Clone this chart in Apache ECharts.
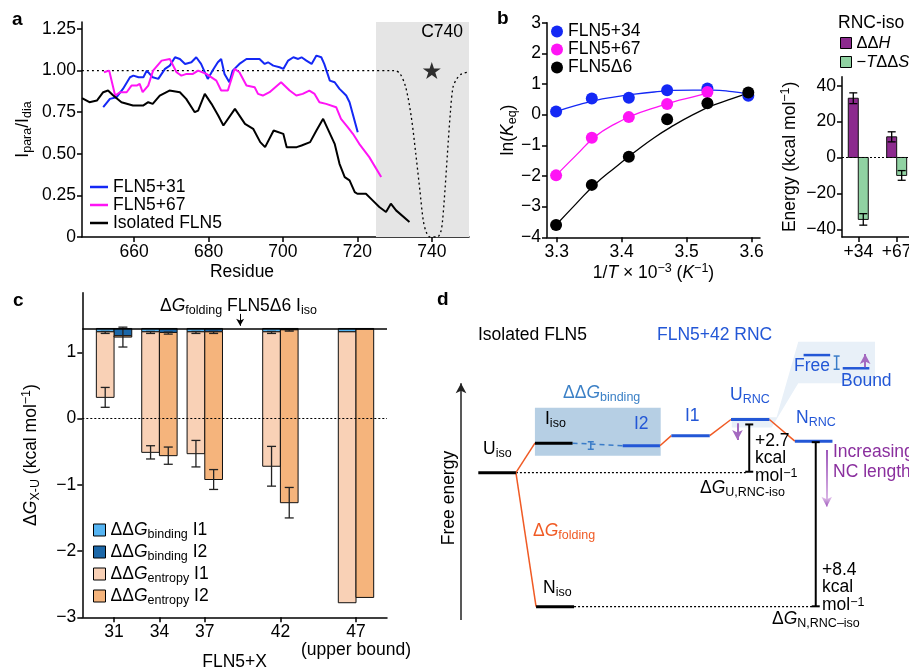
<!DOCTYPE html>
<html>
<head>
<meta charset="utf-8">
<script src="https://cdn.jsdelivr.net/npm/echarts@6/dist/echarts.min.js"></script>
<style>
  html, body { margin: 0; padding: 0; background: #fff; }
  #main { width: 909px; height: 668px; }
</style>
</head>
<body>
<div id="main"></div>
<script>
const FONT = '"Liberation Sans", Arial, Helvetica, sans-serif';
const FS = 17.5;
const BLUE = '#1428f5', MAGENTA = '#ff14f5';

// ---- panel a: PRE profiles ----
const resBlue = [651.7,653.5,655.3,657,658.9,659.8,661.2,662.5,663.4,665,666.5,668.3,669.6,671,672.3,673.7,675.4,676.7,678,679.8,681.1,682.5,683.4,684.3,685.6,686.5,688.3,690.2,691.9,693.7,695.1,696,697.4,699.1,700.1,701.4,702.8,704.1,705,706.3,707.7,709,710.3,711.1,712.6,713.9,715.2,717,717.9,720.1];
const valBlue = [.78,.83,.84,.89,.96,.97,.96,.96,1.00,.96,.95,1.01,1.03,1.08,1.07,1.04,1.05,1.08,1.04,.95,1.00,1.05,1.07,.98,.93,1.00,1.04,1.07,1.07,1.07,1.04,1.05,1.03,1.02,1.01,1.06,1.08,1.07,1.08,1.06,1.04,1.09,1.08,1.04,.94,.93,.89,.85,.81,.63];
const resMagenta = [651.9,653.3,654.9,656.2,658,659.3,660.7,661.5,662.3,663.8,665.1,667.4,669.6,671.4,672.7,674.1,675.8,677.2,679.4,682.1,683.4,685.2,687,688.3,690.2,692.4,693.3,694.6,696.4,699.5,701.8,703.6,705.3,707.1,708.5,709.8,711.6,714.3,715.6,717.4,718.8,720.5,723.2,726.4];
const valMagenta = [.99,1.00,.85,.87,.87,.91,.91,.92,.87,.91,1.00,1.06,1.07,.99,.97,.98,.98,1.00,.98,.94,.88,.88,1.01,.99,.91,.90,.86,.85,.87,.93,.88,.85,.86,.88,.86,.81,.80,.78,.71,.66,.62,.56,.48,.36];
const resBlack = [646,648,650,651.7,653,654.4,656.6,659.7,662.4,663.8,665,666.9,669.5,672.3,674,676.3,677.2,679,680.8,682.6,684,687.1,689.8,692,693.9,695.2,697.5,700.1,701,703.7,705,707.3,709,710.8,713.9,715.2,716.6,717.9,719.3,720,722.3,724.1,725.9,727.7,729,730.4,734];
const valBlack = [.835,.81,.82,.87,.88,.85,.81,.79,.79,.81,.80,.85,.88,.87,.83,.75,.76,.86,.80,.73,.67,.77,.68,.65,.57,.54,.64,.62,.54,.54,.55,.57,.64,.71,.56,.44,.36,.34,.27,.26,.26,.22,.18,.15,.20,.16,.09];
const dipRes = [646,730,731.5,733,734.5,735.7,736.8,737.7,738.5,739.5,741.5,742.4,742.9,743.6,744.2,745,745.7,746.7,748,749.5];
const dipVal = [1,1,.98,.9,.72,.5,.28,.1,.03,0,0,.03,.1,.3,.5,.75,.9,.95,.98,.99];
const labelSite = [740, 1.0];

// ---- panel b: van 't Hoff ----
const invT = [3.299,3.354,3.411,3.470,3.532,3.595];
const ln34 = [0.10,0.53,0.55,0.80,0.85,0.62];
const ln67 = [-1.98,-0.75,-0.08,0.35,0.74];
const lnD6 = [-3.60,-2.29,-1.37,-0.15,0.37,0.72];
const fitX = [3.299,3.33,3.36,3.39,3.42,3.45,3.48,3.51,3.54,3.57,3.595];
const fit34 = [0.10,0.30,0.47,0.58,0.67,0.74,0.79,0.80,0.80,0.75,0.67];
const fitX67 = [3.299,3.33,3.36,3.39,3.42,3.45,3.48,3.51,3.532];
const fit67 = [-1.98,-1.32,-0.70,-0.30,0.0,0.22,0.42,0.58,0.70];
const fitD6 = [-3.60,-2.90,-2.25,-1.72,-1.22,-0.75,-0.35,0.0,0.30,0.52,0.70];

const rncCats = ['+34','+67'];
const dH = [33,11.5], dHErr = [3,2.8];
const tdS = [-34.5,-10], tdSErr = [3.2,2.7];

// ---- panel c: stability ----
const cX = [31,34,37,42,47];
const foldLevel = 1.36;
const bindI1 = [1.31,1.31,1.31,1.31,1.31];
const bindI2 = [1.25,1.30,1.31,1.34,1.35];
const bindI1Err = [0.015,0.015,0.015,0.015,0];
const bindI2Err = [0,0.015,0.015,0.01,0];
const entI1 = [0.32,-0.51,-0.53,-0.72,-2.78];
const entI2 = [1.23,-0.56,-0.92,-1.27,-2.70];
const entI1Err = [0.15,0.10,0.20,0.30,0];
const entI2Err = [0.15,0.13,0.15,0.23,0];

// ---- panel d: energy scheme (x: reaction coordinate, y: kcal/mol vs U_iso) ----
const lvlX0 = [0,1.49,1.52,3.80,5.08,6.65,8.33,8.56,9.59];
const lvlX1 = [0.99,2.48,2.52,4.78,6.09,7.66,9.32,9.26,10.29];
const lvlE = [0,1.5,-6.8,1.37,1.88,2.7,1.6,5.97,5.30];
const lvlRNC = [0,0,0,1,1,1,1,1,1];
const foldPath = [[0,1],[0,2],[3,4],[4,5],[5,6]];
const dGbarX = [7.13,8.88], dGbarLo = [0.05,-6.78], dGbarHi = [2.45,1.55];
const smallErrX = [2.96,9.43], smallErrLo = [1.19,5.25], smallErrHi = [1.57,5.92];
const arrowX = [-0.455,6.82,9.17,10.18];
const arrowFrom = [-7.48,2.51,1.15,5.35];
const arrowTo = [4.54,1.66,-1.73,6.03];
const insetX = [6.67,7.85,8.42,10.44,10.44,8.42,7.72,6.67];
const insetE = [2.81,2.81,6.65,6.65,4.54,4.54,2.30,2.30];
const boxX = [1.49,4.80,4.80,1.49];
const boxE = [3.3,3.3,0.86,0.86];

const zip = (xs, ys) => xs.map((x, i) => [x, ys[i]]);
const minus = v => (v < 0 ? '\u2212' + Math.abs(v) : String(v));

const RICH = {
  i: { fontStyle: 'italic', fontSize: FS, fontFamily: FONT, lineHeight: 22 },
  n: { fontSize: FS, fontFamily: FONT, lineHeight: 22 },
  s: { fontSize: 12.5, fontFamily: FONT, verticalAlign: 'bottom', lineHeight: 10 },
  p: { fontSize: 12.5, fontFamily: FONT, verticalAlign: 'top', lineHeight: 10 }
};

function axisBase(extra) {
  return Object.assign({
    type: 'value',
    nameMoveOverlap: false,
    axisLine: { show: true, onZero: false, lineStyle: { color: '#000', width: 1.5 } },
    splitLine: { show: false },
    nameTextStyle: { color: '#000', fontSize: FS, fontFamily: FONT, lineHeight: 22, rich: RICH }
  }, extra);
}
function ticks(vals, fmt) {
  return {
    axisTick: { show: true, length: 5, customValues: vals, lineStyle: { color: '#000', width: 1.5 } },
    axisLabel: { color: '#000', fontSize: FS, fontFamily: FONT, margin: 6, customValues: vals, formatter: fmt, rich: RICH }
  };
}

function barRender(side, w) {
  return function (params, api) {
    const a = api.coord([api.value(0), api.value(1)]);
    const b = api.coord([api.value(0), api.value(2)]);
    const x0 = side < 0 ? a[0] - w : a[0];
    return { type: 'rect', shape: { x: x0, y: Math.min(a[1], b[1]), width: w, height: Math.abs(b[1] - a[1]) },
      style: { fill: api.visual('color'), stroke: '#111', lineWidth: 1 } };
  };
}
function errRender(dx, cap, color, lw) {
  return function (params, api) {
    const a = api.coord([api.value(0), api.value(1)]);
    const b = api.coord([api.value(0), api.value(2)]);
    const x = a[0] + dx;
    const st = { stroke: color, lineWidth: lw };
    return { type: 'group', children: [
      { type: 'line', shape: { x1: x, y1: a[1], x2: x, y2: b[1] }, style: st },
      { type: 'line', shape: { x1: x - cap, y1: a[1], x2: x + cap, y2: a[1] }, style: st },
      { type: 'line', shape: { x1: x - cap, y1: b[1], x2: x + cap, y2: b[1] }, style: st }
    ] };
  };
}
function segRender(style) {
  return function (params, api) {
    const a = api.coord([api.value(0), api.value(1)]);
    const b = api.coord([api.value(2), api.value(3)]);
    return { type: 'line', shape: { x1: a[0], y1: a[1], x2: b[0], y2: b[1] }, style: style };
  };
}
function polyRender(xs, es, fill) {
  return function (params, api) {
    return { type: 'polygon', shape: { points: xs.map((x, i) => api.coord([x, es[i]])) }, style: { fill: fill } };
  };
}
function txt(x, y, text, o) {
  o = o || {};
  return { type: 'text', x: x, y: y, rotation: o.rot || 0, z: 100, silent: true,
    style: { text: text, fill: o.color || '#000', font: (o.weight || 'normal') + ' ' + (o.size || FS) + 'px ' + FONT,
      align: o.align || 'left', verticalAlign: o.va || 'middle', textAlign: o.align || 'left', textVerticalAlign: o.va || 'middle',
      lineHeight: o.lh || 22, rich: RICH } };
}
const LEG_TEXT = { fontSize: FS, fontFamily: FONT, color: '#000', rich: RICH };

const STAR = 'path://M50 0 L61.8 35.1 L98.8 35.1 L68.9 56.9 L80.3 92.1 L50 70.4 L19.7 92.1 L31.1 56.9 L1.2 35.1 L38.2 35.1 Z';
const D_BLUE = '#2357d6', D_ORANGE = '#f05a24', D_PURPLE = '#a46ac0';
const fade = { type: 'linear', x: 0, y: 0, x2: 0, y2: 1, colorStops: [{ offset: 0, color: '#9a52b8' }, { offset: 1, color: '#e6c8ee' }] };
const arrowColor = ['#222', D_PURPLE, fade, D_PURPLE];
const arrowHead = ['#222', D_PURPLE, '#e0bfe9', D_PURPLE];

const bandLegend = { bindI1: '\u0394\u0394{i|G}{s|binding} I1', bindI2: '\u0394\u0394{i|G}{s|binding} I2',
  entI1: '\u0394\u0394{i|G}{s|entropy} I1', entI2: '\u0394\u0394{i|G}{s|entropy} I2' };

const option = {
  animation: false,
  grid: [
    { left: 82, top: 22, width: 387, height: 215, outerBoundsMode: 'none' },
    { left: 547, top: 22.7, width: 213, height: 214.6, outerBoundsMode: 'none' },
    { left: 842, top: 76.7, width: 70, height: 160.3, outerBoundsMode: 'none' },
    { left: 82.3, top: 292.7, width: 304.7, height: 324.6, outerBoundsMode: 'none' },
    { left: 421.3, top: 300.3, width: 494, height: 339.9, outerBoundsMode: 'none' }
  ],
  xAxis: [
    axisBase(Object.assign({ gridIndex: 0, min: 646, max: 750 }, ticks([660,680,700,720,740]))),
    axisBase(Object.assign({ gridIndex: 1, min: 3.285, max: 3.613, name: '1/{i|T} \u00d7 10{p|\u22123} ({i|K}{p|\u22121})',
      nameLocation: 'middle', nameGap: 25 }, ticks([3.3,3.4,3.5,3.6], v => v.toFixed(1)))),
    axisBase(Object.assign({ gridIndex: 2, min: 0.576, max: 2.399 }, ticks([1,2], v => rncCats[Math.round(v) - 1]))),
    axisBase(Object.assign({ gridIndex: 3, min: 28.9, max: 49.05, name: 'FLN5+X', nameLocation: 'middle', nameGap: 34 },
      ticks(cX, v => (v === 47 ? '47\n(upper bound)' : String(v))))),
    { gridIndex: 4, type: 'value', min: -1.5, max: 11.5, show: false }
  ],
  yAxis: [
    axisBase(Object.assign({ gridIndex: 0, min: 0, max: 1.292, name: 'I{s|para}/I{s|dia}', nameLocation: 'middle', nameRotate: 90, nameGap: 48 },
      ticks([0,0.25,0.5,0.75,1,1.25], v => (v === 0 ? '0' : v.toFixed(2))))),
    axisBase(Object.assign({ gridIndex: 1, min: -4, max: 3, name: 'ln({i|K}{s|eq})', nameLocation: 'middle', nameRotate: 90, nameGap: 28 },
      ticks([-4,-3,-2,-1,0,1,2,3], minus))),
    axisBase(Object.assign({ gridIndex: 2, min: -44.3, max: 45, name: 'Energy (kcal mol{p|\u22121})', nameLocation: 'middle', nameRotate: 90, nameGap: 41 },
      ticks([-40,-20,0,20,40], minus))),
    axisBase(Object.assign({ gridIndex: 3, min: -3, max: 1.9, name: '\u0394{i|G}{s|X-U} (kcal mol{p|\u22121})', nameLocation: 'middle', nameRotate: 90, nameGap: 40 },
      ticks([-3,-2,-1,0,1], minus))),
    { gridIndex: 4, type: 'value', min: -8.5, max: 8.75, show: false }
  ],
  legend: [
    { data: ['FLN5+31','FLN5+67','Isolated FLN5'], orient: 'vertical', left: 90, top: 178, padding: 0, itemWidth: 18, itemHeight: 2.5, itemGap: 0,
      icon: 'rect', selectedMode: false, textStyle: Object.assign({ lineHeight: 17 }, LEG_TEXT) },
    { data: ['b:FLN5+34','b:FLN5+67','b:FLN5\u03946'], orient: 'vertical', left: 551, top: 22.5, padding: 0, itemWidth: 12, itemHeight: 12, itemGap: 0,
      icon: 'circle', selectedMode: false, formatter: n => n.slice(2),
      textStyle: Object.assign({ lineHeight: 17 }, LEG_TEXT) },
    { data: ['dH','TdS'], orient: 'vertical', left: 840, top: 33.5, padding: 0, itemWidth: 11, itemHeight: 11, itemGap: 0, icon: 'rect',
      selectedMode: false, itemStyle: { borderColor: '#000', borderWidth: 1 },
      formatter: n => (n === 'dH' ? '\u0394\u0394{i|H}' : '\u2212{i|T}\u0394\u0394{i|S}'),
      textStyle: Object.assign({}, LEG_TEXT, { lineHeight: 19, fontSize: 16.5,
        rich: { i: { fontStyle: 'italic', fontSize: 16.5, fontFamily: FONT } } }) },
    { data: ['bindI1','bindI2','entI1','entI2'], orient: 'vertical', left: 93, top: 519, padding: 0, itemWidth: 12, itemHeight: 12, itemGap: 0, icon: 'rect',
      selectedMode: false, itemStyle: { borderColor: '#000', borderWidth: 1 },
      formatter: n => bandLegend[n],
      textStyle: Object.assign({ lineHeight: 21.3 }, LEG_TEXT) }
  ],
  series: [
    // panel a
    { type: 'line', name: 'profile', xAxisIndex: 0, yAxisIndex: 0, data: zip(dipRes, dipVal), symbol: 'none', smooth: 0.3, z: 1,
      lineStyle: { color: '#000', width: 1.3, type: [2, 3] },
      markArea: { silent: true, itemStyle: { color: '#e5e5e5' }, data: [[{ xAxis: 725 }, { xAxis: 750 }]] } },
    { type: 'scatter', xAxisIndex: 0, yAxisIndex: 0, data: [labelSite], symbol: STAR, symbolSize: 18, symbolKeepAspect: true,
      itemStyle: { color: '#000' }, z: 4 },
    { type: 'line', name: 'FLN5+31', xAxisIndex: 0, yAxisIndex: 0, data: zip(resBlue, valBlue), symbol: 'none', z: 3,
      lineStyle: { color: BLUE, width: 2 }, itemStyle: { color: BLUE } },
    { type: 'line', name: 'FLN5+67', xAxisIndex: 0, yAxisIndex: 0, data: zip(resMagenta, valMagenta), symbol: 'none', z: 3,
      lineStyle: { color: MAGENTA, width: 2 }, itemStyle: { color: MAGENTA } },
    { type: 'line', name: 'Isolated FLN5', xAxisIndex: 0, yAxisIndex: 0, data: zip(resBlack, valBlack), symbol: 'none', z: 3,
      lineStyle: { color: '#000', width: 2 }, itemStyle: { color: '#000' } },

    // panel b left
    { type: 'line', xAxisIndex: 1, yAxisIndex: 1, data: zip(fitX, fit34), smooth: true, symbol: 'none', z: 3, lineStyle: { color: BLUE, width: 1.3 } },
    { type: 'line', xAxisIndex: 1, yAxisIndex: 1, data: zip(fitX67, fit67), smooth: true, symbol: 'none', z: 3, lineStyle: { color: MAGENTA, width: 1.3 } },
    { type: 'line', xAxisIndex: 1, yAxisIndex: 1, data: zip(fitX, fitD6), smooth: true, symbol: 'none', z: 3, lineStyle: { color: '#000', width: 1.3 } },
    { type: 'scatter', name: 'b:FLN5+34', xAxisIndex: 1, yAxisIndex: 1, data: zip(invT, ln34), symbolSize: 12, z: 4, itemStyle: { color: BLUE, opacity: 1 } },
    { type: 'scatter', name: 'b:FLN5+67', xAxisIndex: 1, yAxisIndex: 1, data: zip(invT, ln67), symbolSize: 12, z: 4, itemStyle: { color: MAGENTA, opacity: 1 } },
    { type: 'scatter', name: 'b:FLN5\u03946', xAxisIndex: 1, yAxisIndex: 1, data: zip(invT, lnD6), symbolSize: 12, z: 5, itemStyle: { color: '#000', opacity: 1 } },

    // panel b right
    { type: 'custom', name: 'dH', xAxisIndex: 2, yAxisIndex: 2, itemStyle: { color: '#8c2a8e' }, z: 2,
      renderItem: barRender(-1, 10), data: dH.map((v, i) => [i + 1, v, 0]),
      markLine: { silent: true, symbol: 'none', label: { show: false }, lineStyle: { color: '#000', width: 1.2, type: [2, 2] }, data: [{ yAxis: 0 }] } },
    { type: 'custom', name: 'TdS', xAxisIndex: 2, yAxisIndex: 2, itemStyle: { color: '#90d2a2' }, z: 2,
      renderItem: barRender(1, 10), data: tdS.map((v, i) => [i + 1, 0, v]) },
    { type: 'custom', xAxisIndex: 2, yAxisIndex: 2, z: 3, renderItem: errRender(-5, 4, '#000', 1.3),
      data: dH.map((v, i) => [i + 1, v - dHErr[i], v + dHErr[i]]) },
    { type: 'custom', xAxisIndex: 2, yAxisIndex: 2, z: 3, renderItem: errRender(5, 4, '#000', 1.3),
      data: tdS.map((v, i) => [i + 1, v - tdSErr[i], v + tdSErr[i]]) },

    // panel c
    { type: 'custom', name: 'bindI1', xAxisIndex: 3, yAxisIndex: 3, itemStyle: { color: '#55b4f2' }, z: 2,
      renderItem: barRender(-1, 17.7), data: cX.map((x, i) => [x, foldLevel, bindI1[i]]),
      markLine: { silent: true, symbol: 'none', label: { show: false }, data: [
        { yAxis: 0, lineStyle: { color: '#000', width: 1.2, type: [2, 2] } },
        { yAxis: foldLevel, lineStyle: { color: '#000', width: 1.5, type: 'solid' } },
        [{ coord: [39.34, 1.58], symbol: 'none', lineStyle: { color: '#000', width: 1, type: 'solid' } },
         { coord: [39.34, 1.40], symbol: 'arrow', symbolSize: [6, 7] }]
      ] } },
    { type: 'custom', name: 'bindI2', xAxisIndex: 3, yAxisIndex: 3, itemStyle: { color: '#1b67a8' }, z: 2,
      renderItem: barRender(1, 17.7), data: cX.map((x, i) => [x, foldLevel, bindI2[i]]) },
    { type: 'custom', name: 'entI1', xAxisIndex: 3, yAxisIndex: 3, itemStyle: { color: '#f9d1b6' }, z: 2,
      renderItem: barRender(-1, 17.7), data: cX.map((x, i) => [x, bindI1[i], entI1[i]]) },
    { type: 'custom', name: 'entI2', xAxisIndex: 3, yAxisIndex: 3, itemStyle: { color: '#f5b47c' }, z: 2,
      renderItem: barRender(1, 17.7), data: cX.map((x, i) => [x, bindI2[i], entI2[i]]) },
    { type: 'custom', xAxisIndex: 3, yAxisIndex: 3, z: 3, renderItem: errRender(-8.85, 4.5, '#222', 1.3),
      data: cX.map((x, i) => [x, entI1[i] - entI1Err[i], entI1[i] + entI1Err[i]]).filter((r, i) => entI1Err[i] > 0) },
    { type: 'custom', xAxisIndex: 3, yAxisIndex: 3, z: 3, renderItem: errRender(8.85, 4.5, '#222', 1.3),
      data: cX.map((x, i) => [x, entI2[i] - entI2Err[i], entI2[i] + entI2Err[i]]).filter((r, i) => entI2Err[i] > 0) },
    { type: 'custom', xAxisIndex: 3, yAxisIndex: 3, z: 3, renderItem: errRender(-8.85, 4.5, '#222', 1.3),
      data: cX.map((x, i) => [x, bindI1[i] - 0.01 - bindI1Err[i], bindI1[i] - 0.01 + bindI1Err[i]]).filter((r, i) => bindI1Err[i] > 0) },
    { type: 'custom', xAxisIndex: 3, yAxisIndex: 3, z: 3, renderItem: errRender(8.85, 4.5, '#222', 1.3),
      data: cX.map((x, i) => [x, bindI2[i] - 0.01 - bindI2Err[i], bindI2[i] - 0.01 + bindI2Err[i]]).filter((r, i) => bindI2Err[i] > 0) },

    // panel d
    { type: 'custom', xAxisIndex: 4, yAxisIndex: 4, z: 1, renderItem: polyRender(insetX, insetE, '#e8f0f8'), data: [[0, 0]] },
    { type: 'custom', xAxisIndex: 4, yAxisIndex: 4, z: 1, renderItem: polyRender(boxX, boxE, '#b6cfe4'), data: [[0, 0]] },
    { type: 'custom', xAxisIndex: 4, yAxisIndex: 4, z: 2, renderItem: segRender({ stroke: '#000', lineWidth: 1.2, lineDash: [2, 2] }),
      data: [[lvlX1[0], lvlE[0], dGbarX[0] - 0.08, lvlE[0]], [lvlX1[2], lvlE[2], dGbarX[1] - 0.08, lvlE[2]]] },
    { type: 'custom', xAxisIndex: 4, yAxisIndex: 4, z: 2, renderItem: segRender({ stroke: D_ORANGE, lineWidth: 1.5 }),
      data: foldPath.map(p => [lvlX1[p[0]], lvlE[p[0]], lvlX0[p[1]], lvlE[p[1]]]) },
    { type: 'custom', xAxisIndex: 4, yAxisIndex: 4, z: 2, renderItem: segRender({ stroke: '#3a7cc8', lineWidth: 1.5, lineDash: [5, 4] }),
      data: [[lvlX1[1], lvlE[1], lvlX0[3], lvlE[3]]] },
    { type: 'custom', xAxisIndex: 4, yAxisIndex: 4, z: 3,
      renderItem: function (params, api) {
        const a = api.coord([api.value(0), api.value(2)]), b = api.coord([api.value(1), api.value(2)]);
        const thin = params.dataIndex >= 7;
        return { type: 'line', shape: { x1: a[0], y1: a[1], x2: b[0], y2: b[1] },
          style: { stroke: api.value(3) ? D_BLUE : '#000', lineWidth: thin ? 2.5 : 3 } };
      },
      data: lvlX0.map((x, i) => [x, lvlX1[i], lvlE[i], lvlRNC[i]]),
      markLine: { silent: true, label: { show: false }, symbol: ['none', 'arrow'], symbolSize: [8, 10],
        data: arrowX.map((x, i) => [
          { coord: [x, arrowFrom[i]], lineStyle: { color: arrowColor[i], width: i === 0 ? 1.5 : 2, type: 'solid' },
            itemStyle: { color: arrowHead[i] } },
          { coord: [x, arrowTo[i]], itemStyle: { color: arrowHead[i] } }]) } },
    { type: 'custom', xAxisIndex: 4, yAxisIndex: 4, z: 3, renderItem: errRender(0, 4, '#000', 2),
      data: dGbarX.map((x, i) => [x, dGbarLo[i], dGbarHi[i]]) },
    { type: 'custom', xAxisIndex: 4, yAxisIndex: 4, z: 3, renderItem: errRender(0, 3, '#3a7cc8', 1.5),
      data: smallErrX.map((x, i) => [x, smallErrLo[i], smallErrHi[i]]) }
  ],
  graphic: [
    txt(12, 20, 'a', { weight: 'bold', size: 19 }),
    txt(497, 19, 'b', { weight: 'bold', size: 19 }),
    txt(13, 301, 'c', { weight: 'bold', size: 19 }),
    txt(437, 300, 'd', { weight: 'bold', size: 19 }),
    txt(463, 32, 'C740', { align: 'right' }),
    txt(242, 272, 'Residue', { align: 'center' }),
    txt(838, 23, 'RNC-iso'),
    txt(160, 306, '\u0394{i|G}{s|folding} FLN5\u03946 I{s|iso}'),
    // panel d labels
    txt(478, 335, 'Isolated FLN5'),
    txt(657, 335, 'FLN5+42 RNC', { color: D_BLUE }),
    txt(563, 393, '\u0394\u0394{i|G}{s|binding}', { color: '#3b80c6' }),
    txt(545, 419, 'I{s|iso}'),
    txt(634, 424, 'I2', { color: D_BLUE }),
    txt(685, 416, 'I1', { color: D_BLUE }),
    txt(730, 395, 'U{s|RNC}', { color: D_BLUE }),
    txt(796, 418, 'N{s|RNC}', { color: D_BLUE }),
    txt(794, 366, 'Free', { color: D_BLUE }),
    txt(841, 381, 'Bound', { color: D_BLUE }),
    txt(483, 449, 'U{s|iso}'),
    txt(543, 588, 'N{s|iso}'),
    txt(533, 531, '\u0394{i|G}{s|folding}', { color: D_ORANGE }),
    txt(755, 432, '+2.7\nkcal\nmol{p|\u22121}', { va: 'top', lh: 17.5 }),
    txt(700, 488, '\u0394{i|G}{s|U,RNC-iso}'),
    txt(822, 561, '+8.4\nkcal\nmol{p|\u22121}', { va: 'top', lh: 17.5 }),
    txt(772, 619, '\u0394{i|G}{s|N,RNC\u2013iso}'),
    txt(833, 462, 'Increasing\nNC length', { color: '#8a2f9e', lh: 20, va: 'middle' }),
    txt(449, 498, 'Free energy', { rot: Math.PI / 2, align: 'center' })
  ]
};

const chart = echarts.init(document.getElementById('main'));
chart.setOption(option);
</script>
</body>
</html>
